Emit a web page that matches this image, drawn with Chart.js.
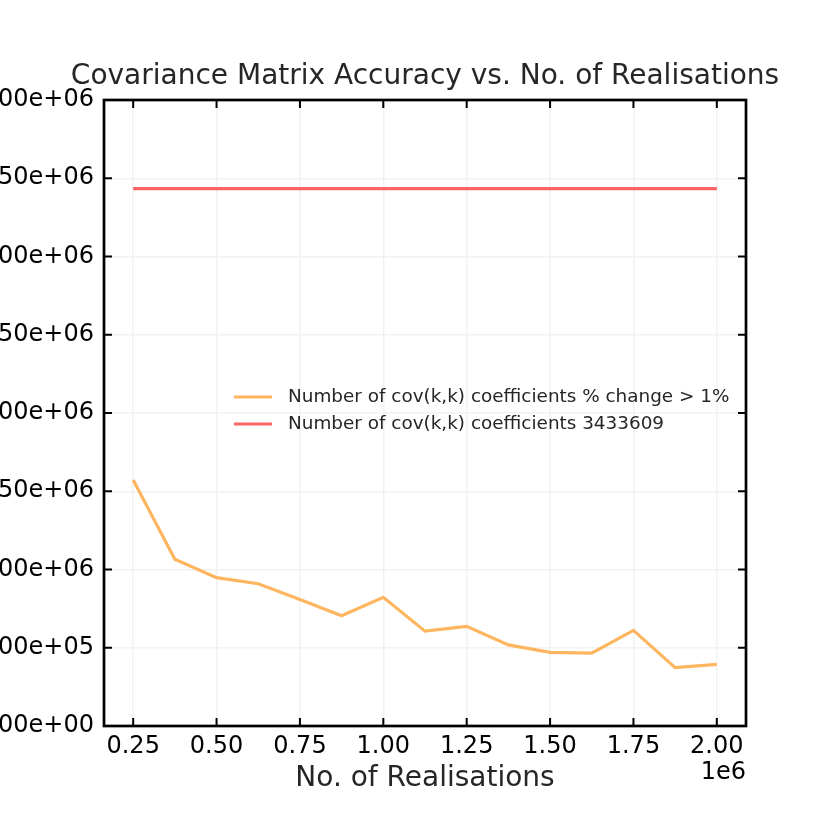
<!DOCTYPE html>
<html>
<head>
<meta charset="utf-8">
<script src="https://cdn.jsdelivr.net/npm/chart.js@4"></script>
<style>
  body { margin: 0; background: #fff; }
  #wrap { width: 830px; height: 830px; }
</style>
</head>
<body>
<div id="wrap"><canvas id="covChart" width="830" height="830"></canvas></div>
<script>
// Datos
const realisations = [250000, 375000, 500000, 625000, 750000, 875000, 1000000, 1125000,
    1250000, 1375000, 1500000, 1625000, 1750000, 1875000, 2000000];
const changedCoeffs = [1572000, 1065000, 948000, 909000, 809000, 705000, 822000, 606000,
    637000, 518000, 471000, 466000, 611000, 373000, 394000];
const totalCoeffs = [3433609, 3433609, 3433609, 3433609, 3433609, 3433609, 3433609, 3433609,
    3433609, 3433609, 3433609, 3433609, 3433609, 3433609, 3433609];
const xTicks = [250000, 500000, 750000, 1000000, 1250000, 1500000, 1750000, 2000000];
const yTicks = [0, 500000, 1000000, 1500000, 2000000, 2500000, 3000000, 3500000, 4000000];
const seriesLabels = ['Number of cov(k,k) coefficients % change > 1%', 'Number of cov(k,k) coefficients 3433609'];
const chartTitle = 'Covariance Matrix Accuracy vs. No. of Realisations';

const FONT = 'DejaVu Sans';
const TEXT = '#262626';

// Formato tipo matplotlib: 5.00e+05
function sci(v) {
    if (v === 0) return '0.00e+00';
    const exp = Math.floor(Math.log10(Math.abs(v)));
    const mant = v / Math.pow(10, exp);
    const sign = exp < 0 ? '-' : '+';
    return mant.toFixed(2) + 'e' + sign + String(Math.abs(exp)).padStart(2, '0');
}

function toPoints(xs, ys) {
    return xs.map((x, i) => ({ x: x, y: ys[i] }));
}

// Marco, marcas hacia dentro, título, texto "1e6" y leyenda
const framePlugin = {
    id: 'frame',
    afterDraw(chart) {
        const { ctx, chartArea: a, scales } = chart;
        const tick = 8;
        ctx.save();
        ctx.strokeStyle = '#000';
        ctx.lineWidth = 2;
        xTicks.forEach(v => {
            const px = scales.x.getPixelForValue(v);
            ctx.beginPath();
            ctx.moveTo(px, a.bottom); ctx.lineTo(px, a.bottom - tick);
            ctx.moveTo(px, a.top); ctx.lineTo(px, a.top + tick);
            ctx.stroke();
        });
        yTicks.forEach(v => {
            const py = scales.y.getPixelForValue(v);
            ctx.beginPath();
            ctx.moveTo(a.left, py); ctx.lineTo(a.left + tick, py);
            ctx.moveTo(a.right, py); ctx.lineTo(a.right - tick, py);
            ctx.stroke();
        });
        ctx.lineWidth = 2.7;
        ctx.strokeRect(a.left, a.top, a.right - a.left, a.bottom - a.top);

        // título centrado sobre el área del gráfico
        ctx.fillStyle = TEXT;
        ctx.font = '28px "' + FONT + '"';
        ctx.textAlign = 'center';
        ctx.textBaseline = 'middle';
        ctx.fillText(chartTitle, (a.left + a.right) / 2, a.top - 23);

        // texto de desplazamiento del eje x
        ctx.fillStyle = '#000';
        ctx.font = '24px "' + FONT + '"';
        ctx.textAlign = 'right';
        ctx.fillText('1e6', a.right, a.bottom + 47);

        // leyenda
        ctx.font = '18.4px "' + FONT + '"';
        ctx.textAlign = 'left';
        ctx.fillStyle = TEXT;
        chart.data.datasets.forEach((ds, i) => {
            const y = a.top + 297 + i * 27;
            ctx.strokeStyle = ds.borderColor;
            ctx.lineWidth = 3.2;
            ctx.beginPath();
            ctx.moveTo(a.left + 130, y);
            ctx.lineTo(a.left + 168, y);
            ctx.stroke();
            ctx.fillText(ds.label, a.left + 184, y);
        });
        ctx.restore();
    }
};

const ctx = document.getElementById('covChart').getContext('2d');
new Chart(ctx, {
    type: 'line',
    data: {
        datasets: [{
            label: seriesLabels[0],
            data: toPoints(realisations, changedCoeffs),
            borderColor: '#feb55f',
            borderWidth: 3.2,
            pointRadius: 0,
            tension: 0
        }, {
            label: seriesLabels[1],
            data: toPoints(realisations, totalCoeffs),
            borderColor: '#f96464',
            borderWidth: 3.2,
            pointRadius: 0,
            tension: 0
        }]
    },
    options: {
        responsive: false,
        animation: false,
        layout: { padding: { top: 100, right: 84, left: 0, bottom: 0 } },
        plugins: {
            legend: { display: false },
            tooltip: { enabled: false },
            title: { display: false }
        },
        scales: {
            x: {
                type: 'linear',
                min: 162500,
                max: 2087500,
                afterBuildTicks: s => { s.ticks = xTicks.map(v => ({ value: v })); },
                afterFit: s => { s.height = 104; },
                grid: { color: '#f2f2f2', lineWidth: 1.5, drawTicks: false },
                border: { display: false },
                ticks: {
                    autoSkip: false,
                    maxRotation: 0,
                    padding: 6,
                    color: '#000',
                    font: { family: FONT, size: 24 },
                    callback: v => (v / 1e6).toFixed(2)
                },
                title: {
                    display: true,
                    text: 'No. of Realisations',
                    color: TEXT,
                    font: { family: FONT, size: 28 },
                    padding: { top: 0, bottom: 34 }
                }
            },
            y: {
                min: 0,
                max: 4000000,
                afterBuildTicks: s => { s.ticks = yTicks.map(v => ({ value: v })); },
                afterFit: s => { s.width = 104; },
                grid: { color: '#f2f2f2', lineWidth: 1.5, drawTicks: false },
                border: { display: false },
                ticks: {
                    autoSkip: false,
                    padding: 10,
                    color: '#000',
                    font: { family: FONT, size: 24 },
                    callback: v => sci(v)
                }
            }
        }
    },
    plugins: [framePlugin]
});
</script>
</body>
</html>
